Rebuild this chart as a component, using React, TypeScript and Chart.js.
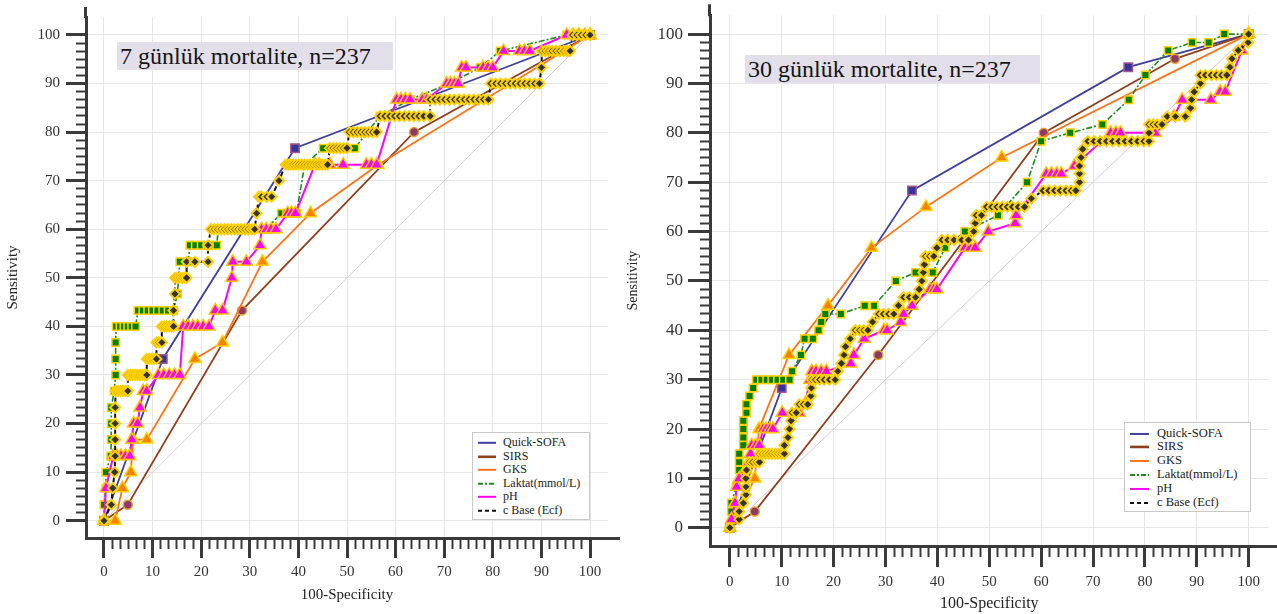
import React, { useEffect, useRef } from "react";
import { Chart, registerables } from "chart.js";
Chart.register(...registerables);

// ---------- tick labels ----------
const MAJOR_TICKS = [0, 10, 20, 30, 40, 50, 60, 70, 80, 90, 100];
const SERIES_NAMES = ["Quick-SOFA", "SIRS", "GKS", "Laktat(mmol/L)", "pH", "c Base (Ecf)"];
const DIAGONAL: [number, number][] = [[0, 0], [100, 100]];

// ---------- 7 günlük mortalite ----------
const L_QSOFA: [number, number][] = [[0, 0], [12.1, 33.3], [39.3, 76.7], [100, 100]];
const L_SIRS: [number, number][] = [[0, 0], [4.9, 3.3], [28.4, 43.3], [63.8, 80], [100, 100]];
const L_GKS: [number, number][] = [[0, 0], [2.3, 0], [3.8, 6.7], [5.5, 10], [6, 16.7], [8.8, 16.7], [18.7, 33.3], [24.4, 36.7], [32.6, 53.3], [42.5, 63.3], [56.4, 73.3], [100, 100]];
const L_LAKTAT: [number, number][] = [[0, 0], [0, 3.3], [0.4, 6.7], [0.4, 10], [1.4, 13.3], [1.5, 16.7], [1.5, 20], [1.5, 23.3], [2.1, 26.7], [2.4, 30], [2.4, 33.3], [2.4, 36.7], [2.5, 40], [3.3, 40], [4.1, 40], [4.9, 40], [5.7, 40], [6.5, 40], [7, 43.3], [8, 43.3], [9, 43.3], [10, 43.3], [11, 43.3], [12.1, 43.3], [13.2, 43.3], [14.3, 43.3], [15.1, 46.7], [15.6, 53.3], [17.3, 53.3], [17.7, 56.7], [18.8, 56.7], [20, 56.7], [21.2, 56.7], [22.3, 56.7], [23.2, 56.7], [23.5, 60], [33.3, 60], [36.5, 63.3], [37.6, 63.3], [38.6, 63.3], [39.6, 63.3], [41.3, 73.3], [45.1, 76.7], [51.6, 76.7], [56.8, 83.3], [63, 86.7], [71, 90], [77.4, 93.3], [81.5, 96.7], [95.2, 100], [100, 100]];
const L_PH: [number, number][] = [[0, 0], [0.4, 6.7], [1.9, 13.3], [2.7, 13.3], [3.5, 13.3], [4.4, 13.3], [5.3, 13.3], [5.7, 16.7], [6.1, 20], [6.9, 20], [7.4, 23.3], [8.1, 26.7], [8.8, 26.7], [11.2, 30], [12.3, 30], [13.4, 30], [14.5, 30], [15.6, 30], [16.3, 40], [17.3, 40], [18.3, 40], [19.3, 40], [20.4, 40], [21.6, 40], [22.9, 43.3], [24.4, 43.3], [26.3, 50], [26.5, 53.3], [29.3, 53.3], [32.1, 56.7], [32.4, 60], [33.4, 60], [34.4, 60], [35.4, 60], [37.8, 63.3], [38.6, 63.3], [39.4, 63.3], [43.4, 73.3], [44.3, 73.3], [46.5, 73.3], [49.2, 73.3], [54, 73.3], [55, 73.3], [56.1, 73.3], [60.2, 86.7], [61.1, 86.7], [62, 86.7], [63, 86.7], [65.5, 86.7], [66.4, 86.7], [70.5, 90], [71.3, 90], [72.1, 90], [72.9, 90], [73.6, 93.3], [74.5, 93.3], [78, 93.3], [79, 93.3], [80, 93.3], [82.2, 96.7], [85.5, 96.7], [86.5, 96.7], [87.6, 96.7], [95.2, 100], [96.5, 100], [97.7, 100], [98.9, 100], [100, 100]];
const L_CBASE: [number, number][] = [[0, 0], [1.5, 3.3], [1.8, 6.7], [2.2, 10], [2.3, 13.3], [2.3, 16.7], [2.3, 20], [2.3, 23.3], [2.4, 26.7], [2.9, 26.7], [3.4, 26.7], [3.9, 26.7], [4.4, 26.7], [4.9, 26.7], [4.9, 30], [5.4, 30], [5.9, 30], [6.4, 30], [6.9, 30], [7.4, 30], [7.9, 30], [8.4, 30], [8.8, 30], [8.8, 33.3], [9.3, 33.3], [9.8, 33.3], [10.3, 33.3], [10.8, 33.3], [10.8, 36.7], [11.3, 36.7], [11.9, 36.7], [11.9, 40], [12.4, 40], [12.9, 40], [13.4, 40], [13.9, 40], [14.3, 40], [14.3, 43.3], [14.6, 46.7], [14.6, 50], [15.1, 50], [15.6, 50], [16.1, 50], [16.6, 50], [17, 50], [17, 53.3], [18.7, 53.3], [21.4, 53.3], [21.4, 56.7], [22, 60], [22.7, 60], [23.4, 60], [24.1, 60], [24.8, 60], [25.5, 60], [26.2, 60], [26.9, 60], [27.6, 60], [28.3, 60], [29, 60], [29.7, 60], [30.4, 60], [31, 60], [31.4, 63.3], [31.9, 66.7], [32.4, 66.7], [33.5, 66.7], [34.5, 66.7], [36, 70], [37.4, 73.3], [37.9, 73.3], [38.4, 73.3], [38.9, 73.3], [39.5, 73.3], [40.1, 73.3], [40.7, 73.3], [41.3, 73.3], [41.9, 73.3], [42.5, 73.3], [43.1, 73.3], [43.7, 73.3], [44.3, 73.3], [44.9, 73.3], [45.5, 73.3], [46, 73.3], [46.5, 76.7], [47.2, 76.7], [47.9, 76.7], [48.6, 76.7], [49.3, 76.7], [50, 76.7], [50.5, 80], [51.3, 80], [52.1, 80], [52.9, 80], [53.7, 80], [54.5, 80], [55.3, 80], [56.1, 80], [56.8, 83.3], [57.8, 83.3], [58.8, 83.3], [59.8, 83.3], [60.8, 83.3], [61.8, 83.3], [62.8, 83.3], [63.8, 83.3], [64.8, 83.3], [65.8, 83.3], [67.1, 83.3], [67.1, 86.7], [68.1, 86.7], [69.1, 86.7], [70.1, 86.7], [71.1, 86.7], [72.1, 86.7], [73.1, 86.7], [74.1, 86.7], [75.1, 86.7], [76.1, 86.7], [77.1, 86.7], [78.1, 86.7], [79.1, 86.7], [79.6, 90], [80.6, 90], [81.6, 90], [82.6, 90], [83.6, 90], [84.6, 90], [85.6, 90], [86.6, 90], [87.6, 90], [88.6, 90], [89.6, 90], [90, 93.3], [90.1, 96.7], [90.8, 96.7], [91.5, 96.7], [92.2, 96.7], [93, 96.7], [93.8, 96.7], [94.6, 96.7], [95.3, 96.7], [95.9, 96.7], [96.4, 100], [97.3, 100], [98.2, 100], [99.1, 100], [100, 100]];

// ---------- 30 günlük mortalite ----------
const R_QSOFA: [number, number][] = [[0, 0], [10, 28.3], [35.1, 68.3], [76.8, 93.3], [100, 100]];
const R_SIRS: [number, number][] = [[0, 0], [4.8, 3.3], [28.6, 35], [60.5, 80], [85.8, 95], [100, 100]];
const R_GKS: [number, number][] = [[0, 0], [4.8, 10], [5.6, 20], [11.4, 35], [18.9, 45], [27.3, 56.7], [37.8, 65], [52.4, 75], [100, 100]];
const R_LAKTAT: [number, number][] = [[0, 0], [0.3, 3.3], [0.3, 5], [1.2, 8.3], [1.8, 11.7], [1.8, 13.3], [1.8, 15], [2.6, 16.7], [2.6, 18.3], [2.6, 20], [2.6, 21.7], [3.2, 23.3], [3.2, 25], [3.8, 26.7], [4.5, 28.3], [5.1, 30], [6.1, 30], [7.1, 30], [8.1, 30], [9.2, 30], [10.3, 30], [11.5, 30], [12, 31.7], [13.7, 35], [14.4, 38.3], [16, 38.3], [17.1, 40], [17.6, 41.7], [18.4, 43.3], [21.4, 43.3], [26, 45], [27.8, 45], [32, 50], [35.8, 51.7], [39.1, 51.7], [41.5, 56.7], [45.3, 60], [51.7, 63.3], [57.3, 70], [60, 78.3], [65.6, 80], [71.8, 81.7], [76.9, 86.7], [80.1, 91.7], [84.5, 96.7], [89.1, 98.3], [92.3, 98.3], [95.3, 100], [100, 100]];
const R_PH: [number, number][] = [[0, 0], [0.3, 1.7], [1, 5], [1.3, 8.3], [1.8, 10], [3.1, 11.7], [3.6, 13.3], [4, 15], [4.2, 16.7], [5, 16.7], [5.7, 16.7], [6.4, 20], [7, 20], [7.7, 20], [8.3, 20], [10.1, 23.3], [13.4, 23.3], [14.5, 25], [15.4, 30], [15.8, 31.7], [16.6, 31.7], [17.6, 31.7], [18.6, 31.7], [23.3, 33.3], [23.9, 35], [25.9, 38.3], [29.7, 40], [30.3, 40], [32.9, 41.7], [33.5, 43.3], [35.1, 45], [38.6, 48.3], [39.3, 48.3], [39.9, 48.3], [45.3, 56.7], [46.3, 56.7], [47.3, 56.7], [49.8, 60], [55, 61.7], [55.2, 63.3], [61, 71.7], [62, 71.7], [63, 71.7], [63.9, 71.7], [66.4, 73.3], [73.4, 80], [74.4, 80], [75.3, 80], [82, 80], [85.6, 83.3], [87.2, 86.7], [92.7, 86.7], [94.5, 88.3], [95.5, 88.3], [98.7, 96.7], [100, 100]];
const R_CBASE: [number, number][] = [[0, 0], [1.8, 1.7], [1.8, 3.3], [2.6, 5], [3.1, 6.7], [3.1, 8.3], [3.1, 10], [3.2, 11.7], [3.8, 13.3], [4.4, 13.3], [5.1, 13.3], [5.7, 13.3], [5.7, 15], [6.3, 15], [6.9, 15], [7.5, 15], [8.1, 15], [8.7, 15], [9.3, 15], [9.9, 15], [10.5, 15], [10.5, 16.7], [11.2, 18.3], [11.5, 20], [11.8, 21.7], [12, 23.3], [12.8, 23.3], [13.4, 25], [14.2, 25], [15, 25], [15.6, 26.7], [15.7, 28.3], [15.8, 30], [16.5, 30], [17.3, 30], [18.2, 30], [19.2, 30], [20.3, 30], [20.8, 31.7], [21.5, 33.3], [22, 35], [22.3, 36.7], [23.2, 38.3], [24.2, 40], [25, 40], [25.8, 40], [26.6, 40], [27.5, 41.7], [28.7, 43.3], [29.6, 43.3], [30.6, 43.3], [31.6, 43.3], [32.5, 45], [33.5, 46.7], [34.6, 46.7], [35.8, 46.7], [36.5, 48.3], [37, 50], [37.3, 51.7], [37.5, 53.3], [37.7, 55], [38.5, 55], [39.3, 55], [39.9, 56.7], [40.9, 58.3], [42, 58.3], [43.2, 58.3], [44.7, 58.3], [46, 58.3], [47, 60], [47.3, 61.7], [47.5, 63.3], [48.5, 63.3], [49.5, 65], [50.5, 65], [51.5, 65], [52.5, 65], [53.5, 65], [54.5, 65], [55.6, 65], [56.8, 65], [58.1, 66.7], [60.4, 68.3], [61.5, 68.3], [62.6, 68.3], [63.7, 68.3], [64.8, 68.3], [65.8, 68.3], [66.7, 68.3], [67.4, 70], [67.4, 71.7], [67.4, 73.3], [67.7, 75], [68, 76.7], [69, 78.3], [70.2, 78.3], [71.4, 78.3], [72.6, 78.3], [73.8, 78.3], [75, 78.3], [76.2, 78.3], [77.4, 78.3], [78.6, 78.3], [79.8, 78.3], [80.8, 78.3], [80.8, 80], [80.8, 81.7], [81.6, 81.7], [82.4, 81.7], [83.3, 81.7], [84.3, 83.3], [85.9, 83.3], [87.8, 83.3], [88.8, 85], [89, 86.7], [89.5, 88.3], [90.7, 90], [90.7, 91.7], [91.7, 91.7], [92.8, 91.7], [93.8, 91.7], [94.8, 91.7], [95.8, 91.7], [96.4, 93.3], [96.8, 95], [98, 96.7], [99.9, 98.3], [100, 100]];

// ---------- styles ----------
const STYLES = [
  { line: "#3f3f9e", width: 1.8, dash: [], point: "rect", r: 6, fill: "#34349a", stroke: "#a8588e", bw: 1.5, order: 5 },
  { line: "#8e3f1c", width: 1.8, dash: [], point: "circle", r: 4.5, fill: "#8c3a68", stroke: "#e8a030", bw: 1.5, order: 4 },
  { line: "#ff7418", width: 1.8, dash: [], point: "triangle", r: 7, fill: "#ff8000", stroke: "#ffd000", bw: 1.5, order: 3 },
  { line: "#1f8a1f", width: 1.6, dash: [6, 2, 2, 2], point: "rect", r: 5.3, fill: "#008000", stroke: "#ffd000", bw: 1.5, order: 2 },
  { line: "#ff00ff", width: 2, dash: [], point: "triangle", r: 7, fill: "#ff00ff", stroke: "#ffc400", bw: 1.5, order: 1 },
  { line: "#111111", width: 2, dash: [5, 3], point: "rectRot", r: 5, fill: "#333333", stroke: "#ffd000", bw: 2, order: 0 },
];

const axisExtend = {
  id: "axisExtend",
  afterDraw(chart: any, _a: any, opts: any) {
    const { ctx, chartArea, width } = chart;
    ctx.save();
    ctx.strokeStyle = "#3a3a3a";
    ctx.lineWidth = 3;
    ctx.beginPath();
    ctx.moveTo(chartArea.left - 0.5, chartArea.top + 1);
    ctx.lineTo(chartArea.left - 0.5, chartArea.top - opts.up);
    ctx.moveTo(chartArea.right - 1, chartArea.bottom + 0.5);
    ctx.lineTo(width, chartArea.bottom + 0.5);
    ctx.stroke();
    ctx.restore();
  },
};

function minorTicks() {
  const out: number[] = [];
  for (let i = 0; i <= 60; i++) {
    if (i % 6 !== 0) out.push((i * 10) / 6);
  }
  return out;
}

const SERIF = '"Liberation Serif", "Times New Roman", serif';

function RocPanel({ cfg }: { cfg: any }) {
  const ref = useRef<HTMLCanvasElement>(null);
  useEffect(() => {
    const series = cfg.series as [number, number][][];
    const datasets: any[] = [
      {
        data: DIAGONAL.map(([x, y]) => ({ x, y })),
        showLine: true,
        borderColor: "#ddc9d2",
        borderWidth: 1,
        pointRadius: 0,
        order: 10,
      },
    ];
    series.forEach((s, i) => {
      const st = STYLES[i];
      datasets.push({
        label: SERIES_NAMES[i],
        data: s.map(([x, y]) => ({ x, y })),
        showLine: true,
        borderColor: st.line,
        borderWidth: st.width,
        borderDash: st.dash,
        backgroundColor: st.fill,
        pointStyle: st.point,
        pointRadius: st.r,
        pointBackgroundColor: st.fill,
        pointBorderColor: st.stroke,
        pointBorderWidth: st.bw,
        order: st.order,
        tension: 0,
        fill: false,
      });
    });
    const minor = minorTicks();
    const tickFontX = { family: SERIF, size: 15 };
    const tickFontY = { family: SERIF, size: cfg.yTickSize };
    const chart = new Chart(ref.current as HTMLCanvasElement, {
      type: "scatter",
      data: { datasets },
      plugins: [axisExtend as any],
      options: {
        animation: false,
        responsive: false,
        devicePixelRatio: 1,
        layout: { padding: { left: 0, top: cfg.padTop, right: cfg.padRight, bottom: 0 } },
        plugins: {
          legend: { display: false },
          tooltip: { enabled: false },
          axisExtend: { up: cfg.up },
        } as any,
        scales: {
          x: {
            type: "linear",
            position: "bottom",
            min: cfg.xMin,
            max: cfg.xMax,
            afterBuildTicks: (s: any) => {
              s.ticks = MAJOR_TICKS.map((v) => ({ value: v }));
            },
            afterFit: (s: any) => {
              s.height = cfg.xAxisH;
            },
            ticks: { font: tickFontX, color: "#333", padding: cfg.xTickPad, maxRotation: 0, autoSkip: false },
            grid: { color: "#e7e7e7", lineWidth: 1, tickColor: "#3a3a3a", tickWidth: 3, tickLength: cfg.xMajorLen },
            border: { display: true, color: "#3a3a3a", width: 3 },
            title: { display: true, text: "100-Specificity", font: { family: SERIF, size: cfg.xTitleSize }, color: "#222", padding: { top: 0, bottom: cfg.xTitlePad } },
          },
          xMinor: {
            type: "linear",
            axis: "x",
            position: { y: cfg.yMin },
            min: cfg.xMin,
            max: cfg.xMax,
            afterBuildTicks: (s: any) => {
              s.ticks = minor.map((v) => ({ value: v }));
            },
            ticks: { display: false },
            grid: { drawOnChartArea: false, tickColor: "#3a3a3a", tickWidth: 2, tickLength: 11 },
            border: { display: false },
          },
          y: {
            type: "linear",
            position: "left",
            min: cfg.yMin,
            max: cfg.yMax,
            afterBuildTicks: (s: any) => {
              s.ticks = MAJOR_TICKS.map((v) => ({ value: v }));
            },
            afterFit: (s: any) => {
              s.width = cfg.yAxisW;
            },
            ticks: { font: tickFontY, color: "#333", padding: cfg.yTickPad, autoSkip: false },
            grid: { color: "#e7e7e7", lineWidth: 1, tickColor: "#3a3a3a", tickWidth: 3, tickLength: cfg.yMajorLen },
            border: { display: true, color: "#3a3a3a", width: 3 },
            title: { display: true, text: "Sensitivity", font: { family: SERIF, size: cfg.yTitleSize }, color: "#222", padding: { top: cfg.yTitlePad, bottom: 0 } },
          },
          yMinor: {
            type: "linear",
            axis: "y",
            position: { x: cfg.xMin },
            min: cfg.yMin,
            max: cfg.yMax,
            afterBuildTicks: (s: any) => {
              s.ticks = minor.map((v) => ({ value: v }));
            },
            ticks: { display: false },
            grid: { drawOnChartArea: false, tickColor: "#3a3a3a", tickWidth: 2, tickLength: 10 },
            border: { display: false },
          },
        } as any,
      },
    });
    return () => chart.destroy();
  }, []);

  const lg = cfg.legend;
  return (
    <div style={{ position: "absolute", left: cfg.left, top: 0, width: cfg.width, height: 614 }}>
      <canvas ref={ref} width={cfg.width} height={614} style={{ display: "block", width: cfg.width, height: 614 }} />
      <div
        style={{
          position: "absolute",
          left: cfg.title.x,
          top: cfg.title.y,
          width: cfg.title.w,
          height: 28,
          background: "#e3dfea",
          fontFamily: SERIF,
          fontSize: 24,
          lineHeight: "28px",
          color: "#151515",
          paddingLeft: 3,
          boxSizing: "border-box",
          whiteSpace: "nowrap",
        }}
      >
        {cfg.title.text}
      </div>
      <div
        style={{
          position: "absolute",
          left: lg.x,
          top: lg.y,
          width: lg.w,
          height: lg.h,
          border: "1px solid #c9c9c9",
          background: "#fff",
          boxSizing: "border-box",
          fontFamily: SERIF,
          fontSize: lg.font,
          color: "#222",
        }}
      >
        {SERIES_NAMES.map((name, i) => {
          const st = STYLES[i];
          return (
            <div key={name} style={{ position: "absolute", left: 0, top: lg.top0 + i * lg.step, height: lg.step, width: "100%" }}>
              <svg width={lg.sw + 2} height={lg.step} style={{ position: "absolute", left: lg.sx, top: 0 }}>
                <line
                  x1={1}
                  x2={lg.sw + 1}
                  y1={lg.step / 2}
                  y2={lg.step / 2}
                  stroke={st.line}
                  strokeWidth={i === 1 ? 2.6 : 2}
                  strokeDasharray={i === 3 ? "5 2 2 2" : i === 5 ? "4 3" : undefined}
                />
              </svg>
              <span style={{ position: "absolute", left: lg.tx, top: 0, lineHeight: `${lg.step}px`, whiteSpace: "nowrap" }}>{name}</span>
            </div>
          );
        })}
      </div>
    </div>
  );
}

const LEFT_CFG = {
  left: 0,
  width: 620,
  series: [L_QSOFA, L_SIRS, L_GKS, L_LAKTAT, L_PH, L_CBASE],
  padTop: 17,
  padRight: 12,
  yAxisW: 86,
  xAxisH: 76,
  xMin: -3.7,
  xMax: 103.7,
  yMin: -3.56,
  yMax: 103.7,
  up: 10,
  yTickSize: 15,
  xTickPad: 5,
  yTickPad: 6,
  xMajorLen: 20,
  yMajorLen: 20,
  xTitleSize: 15,
  yTitleSize: 15,
  xTitlePad: 10,
  yTitlePad: 4,
  title: { x: 117, y: 42, w: 276, text: "7 günlük mortalite, n=237" },
  legend: { x: 472, y: 432, w: 118, h: 88, font: 12, top0: 3, step: 13.6, sx: 4, sw: 18, tx: 30 },
};

const RIGHT_CFG = {
  left: 620,
  width: 657,
  series: [R_QSOFA, R_SIRS, R_GKS, R_LAKTAT, R_PH, R_CBASE],
  padTop: 13,
  padRight: 5,
  yAxisW: 90,
  xAxisH: 68,
  xMin: -3.83,
  xMax: 103.83,
  yMin: -3.69,
  yMax: 103.83,
  up: 11,
  yTickSize: 17,
  xTickPad: 6,
  yTickPad: 5,
  xMajorLen: 21,
  yMajorLen: 22,
  xTitleSize: 16,
  yTitleSize: 14,
  xTitlePad: 1,
  yTitlePad: 5,
  title: { x: 125, y: 55, w: 295, text: "30 günlük mortalite, n=237" },
  legend: { x: 504, y: 422, w: 127, h: 90, font: 12.5, top0: 3.5, step: 13.9, sx: 4, sw: 19, tx: 32 },
};

export default function App() {
  return (
    <div style={{ position: "fixed", left: 0, top: 0, width: 1277, height: 614, background: "#fff", overflow: "hidden" }}>
      <RocPanel cfg={LEFT_CFG} />
      <RocPanel cfg={RIGHT_CFG} />
    </div>
  );
}
